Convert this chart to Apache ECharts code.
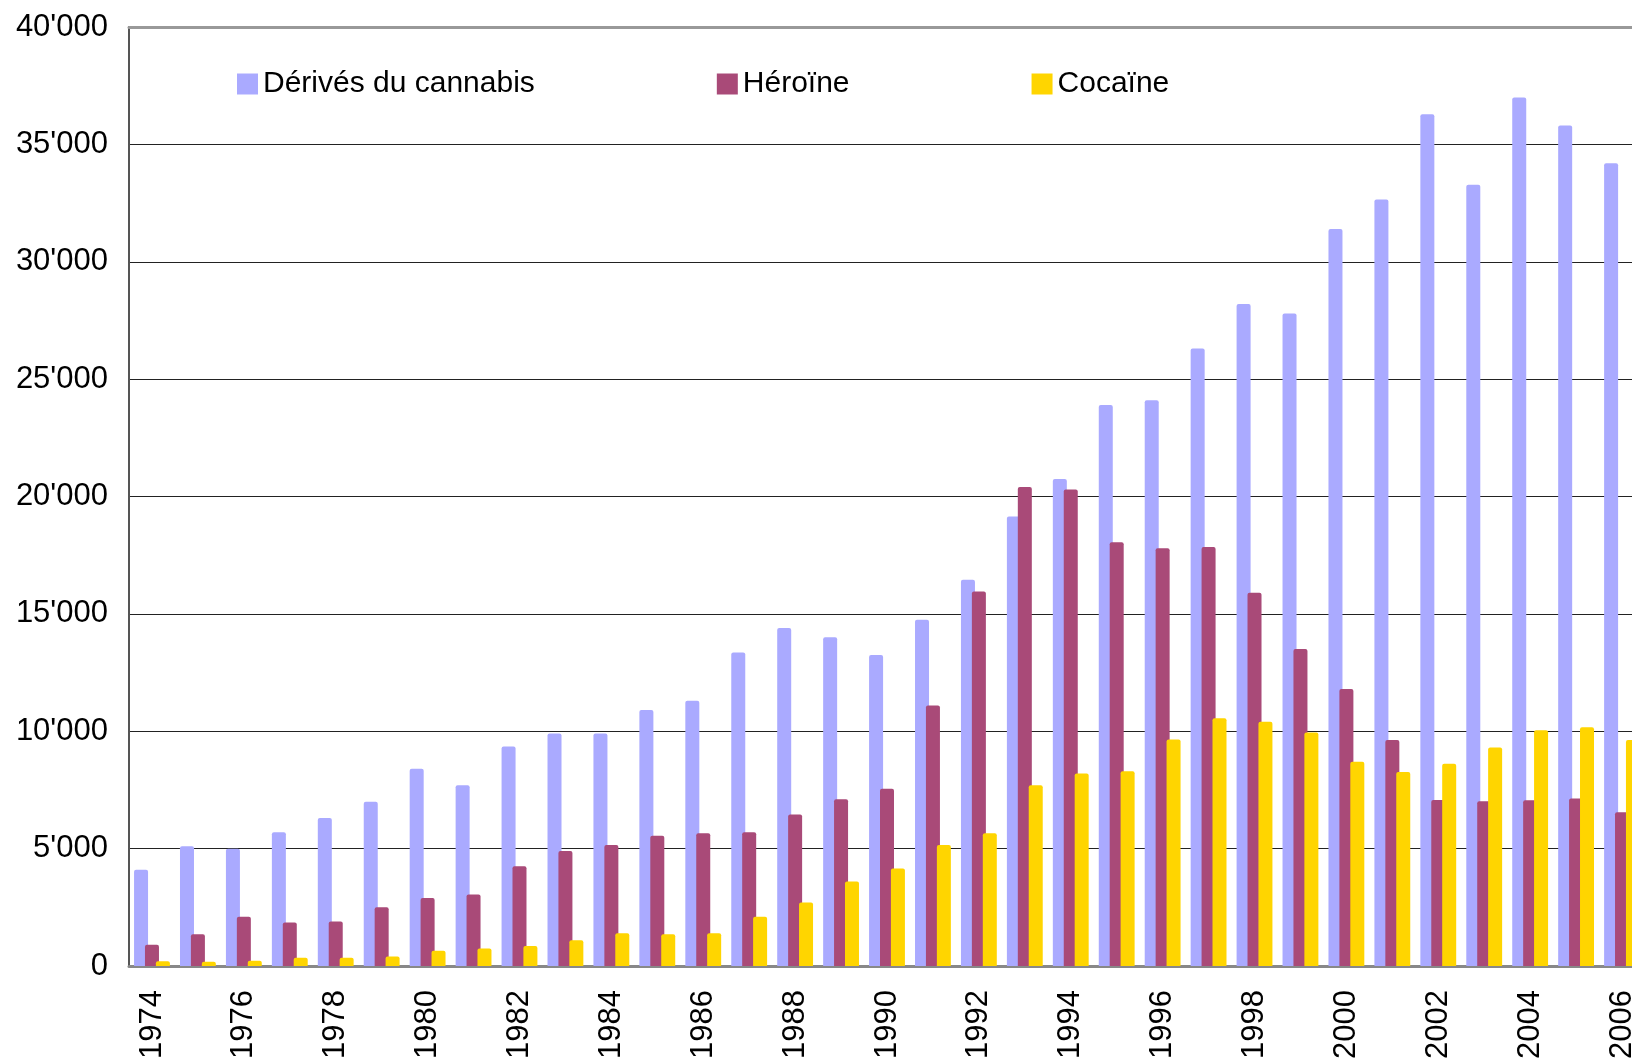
<!DOCTYPE html>
<html>
<head>
<meta charset="utf-8">
<script src="https://cdn.jsdelivr.net/npm/echarts@6/dist/echarts.min.js"></script>
<style>
  html, body { margin: 0; padding: 0; background: #fff; }
  #main { width: 1632px; height: 1058px; }
</style>
</head>
<body>
<div id="main"></div>
<script>
// années
var years = [];
for (var y = 1974; y <= 2006; y++) years.push(String(y));

// valeurs
var cannabis = [4100, 5100, 5000, 5700, 6300, 7000, 8400, 7700, 9350, 9900,
  9900, 10900, 11300, 13350, 14400, 14000, 13250, 14750, 16450, 19150,
  20750, 23900, 24100, 26300, 28200, 27800, 31400, 32650, 36280, 33280,
  37000, 35800, 34200];
var heroine = [900, 1350, 2100, 1850, 1900, 2500, 2900, 3050, 4250, 4900,
  5150, 5550, 5650, 5700, 6450, 7100, 7550, 11100, 15950, 20400,
  20300, 18050, 17800, 17850, 15900, 13500, 11800, 9630, 7070, 7020,
  7060, 7140, 6550];
var cocaine = [200, 180, 220, 350, 350, 400, 650, 750, 850, 1100,
  1400, 1350, 1400, 2100, 2700, 3600, 4150, 5150, 5650, 7700,
  8200, 8300, 9650, 10550, 10400, 9950, 8700, 8260, 8620, 9310,
  10040, 10170, 9630];

var seriesNames = ['Dérivés du cannabis', 'Héroïne', 'Cocaïne'];
var colors = ['#aaaaff', '#a94a78', '#ffd500'];

var font = 'Liberation Sans, Arial, sans-serif';

function fmt(v) {
  return String(v).replace(/\B(?=(\d{3})+(?!\d))/g, "'");
}

var chart = echarts.init(document.getElementById('main'));

function bar(name, data, color) {
  return {
    name: name,
    type: 'bar',
    data: data,
    barWidth: 14,
    barGap: '-22%',
    itemStyle: { color: color, borderRadius: [2, 2, 0, 0] },
    animation: false
  };
}

chart.setOption({
  animation: false,
  color: colors,
  grid: { left: 129, top: 27, bottom: 92, right: -13, outerBoundsMode: 'none' },
  legend: {
    data: seriesNames,
    left: 232,
    top: 64,
    icon: 'rect',
    itemWidth: 21,
    itemHeight: 21,
    itemGap: 182,
    textStyle: { fontSize: 30, color: '#000', fontFamily: font }
  },
  xAxis: [{
    type: 'category',
    data: years,
    axisLine: { lineStyle: { color: '#888', width: 3 } },
    axisTick: { show: false },
    axisLabel: {
      interval: 1,
      rotate: 90,
      margin: 24,
      fontSize: 31,
      color: '#000',
      fontFamily: font
    }
  }, {
    type: 'category',
    data: years,
    position: 'top',
    axisLine: { lineStyle: { color: '#999', width: 3 } },
    axisTick: { show: false },
    axisLabel: { show: false }
  }],
  yAxis: {
    type: 'value',
    min: 0,
    max: 40000,
    interval: 5000,
    axisLine: { show: true, lineStyle: { color: '#555', width: 2 } },
    axisTick: { show: false },
    splitLine: { lineStyle: { color: '#222', width: 1 } },
    axisLabel: {
      margin: 21,
      fontSize: 31,
      color: '#000',
      fontFamily: font,
      formatter: fmt
    }
  },
  series: [
    bar(seriesNames[0], cannabis, colors[0]),
    bar(seriesNames[1], heroine, colors[1]),
    bar(seriesNames[2], cocaine, colors[2])
  ]
});
</script>
</body>
</html>
